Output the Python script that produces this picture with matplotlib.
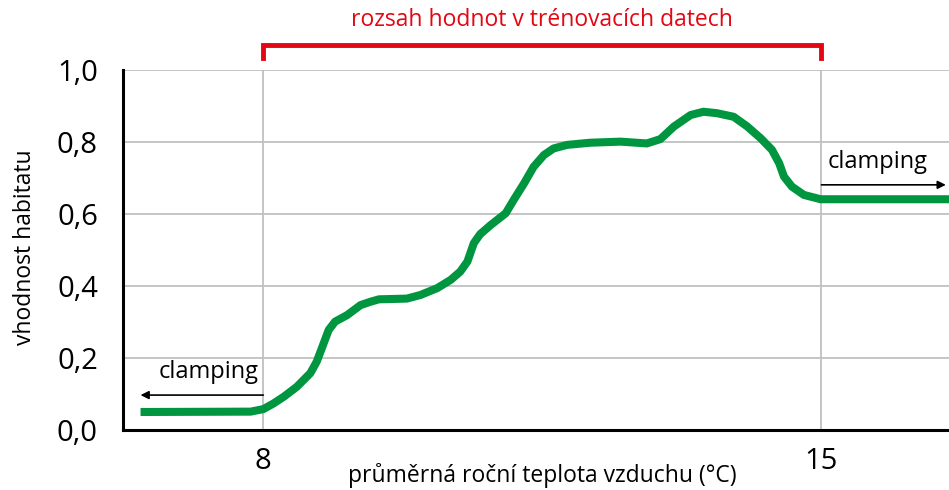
import matplotlib
matplotlib.use("Agg")
import matplotlib.pyplot as plt

plt.rcParams['font.family'] = ['Open Sans', 'DejaVu Sans']

# krivka vhodnosti habitatu
teplota = [6.46, 7.84, 8.00, 8.13, 8.26, 8.42, 8.59, 8.67, 8.74, 8.82, 8.90, 9.05,
           9.22, 9.34, 9.45, 9.80, 9.97, 10.18, 10.35, 10.47, 10.56, 10.64, 10.72,
           10.85, 11.04, 11.14, 11.27, 11.39, 11.52, 11.64, 11.81, 12.10, 12.48,
           12.81, 12.98, 13.15, 13.36, 13.52, 13.69, 13.90, 14.07, 14.24, 14.38,
           14.47, 14.53, 14.63, 14.78, 14.99, 16.61]
vhodnost = [0.050, 0.051, 0.058, 0.074, 0.093, 0.120, 0.158, 0.190, 0.231, 0.278,
            0.301, 0.319, 0.347, 0.356, 0.363, 0.365, 0.375, 0.394, 0.417, 0.440,
            0.468, 0.519, 0.544, 0.569, 0.602, 0.639, 0.685, 0.731, 0.764, 0.782,
            0.792, 0.798, 0.801, 0.796, 0.808, 0.843, 0.875, 0.884, 0.880, 0.870,
            0.843, 0.810, 0.778, 0.741, 0.704, 0.676, 0.653, 0.641, 0.641]

rozsah = [8, 15]
y_ticks = [0.0, 0.2, 0.4, 0.6, 0.8, 1.0]
y_labels = ["0,0", "0,2", "0,4", "0,6", "0,8", "1,0"]

zelena = "#009640"
cervena = "#e30613"

fig = plt.figure(figsize=(9.49, 4.9), dpi=100)
ax = fig.add_axes([123/949, 60/490, 1 - 123/949, 360/490])
ax.set_xlim(6.24, 16.6)
ax.set_ylim(0, 1.0)

for s in ["top", "right"]:
    ax.spines[s].set_visible(False)
for s in ["left", "bottom"]:
    ax.spines[s].set_linewidth(2.2)
    ax.spines[s].set_color("black")

ax.set_xticks(rozsah)
ax.set_xticklabels([str(v) for v in rozsah])
ax.set_yticks(y_ticks)
ax.set_yticklabels(y_labels)
ax.tick_params(length=0, labelsize=21)
ax.tick_params(axis="y", pad=18)
ax.tick_params(axis="x", pad=12)
ax.grid(True, color="#c0c0c0", linewidth=1.3)
ax.set_axisbelow(True)

ax.plot(teplota, vhodnost, color=zelena, linewidth=5.8,
        solid_capstyle="butt", solid_joinstyle="round", zorder=3)

# rozsah hodnot v trenovacich datech
ax.plot([rozsah[0], rozsah[0], rozsah[1], rozsah[1]], [1.033, 1.069, 1.069, 1.033],
        color=cervena, linewidth=3.5, clip_on=False, solid_joinstyle="miter")
ax.text(sum(rozsah) / 2, 1.14, "rozsah hodnot v trénovacích datech", color=cervena,
        fontsize=16.5, ha="center", va="center", clip_on=False)

# clamping
ax.annotate("", xy=(6.46, 0.097), xytext=(8, 0.097),
            arrowprops=dict(arrowstyle="-|>", color="black", lw=1.2,
                            mutation_scale=12, shrinkA=0, shrinkB=0))
ax.text(7.94, 0.16, "clamping", fontsize=17, ha="right", va="center")
ax.annotate("", xy=(16.56, 0.681), xytext=(15, 0.681),
            arrowprops=dict(arrowstyle="-|>", color="black", lw=1.2,
                            mutation_scale=12, shrinkA=0, shrinkB=0),
            annotation_clip=False)
ax.text(15.08, 0.745, "clamping", fontsize=17, ha="left", va="center")

fig.text(25/949, 1 - 247/490, "vhodnost habitatu", rotation=90, fontsize=16.5,
         ha="center", va="center")
fig.text(542/949, 1 - 475/490, "průměrná roční teplota vzduchu (°C)", fontsize=16.5,
         ha="center", va="center")

fig.savefig("out.png", dpi=100)
